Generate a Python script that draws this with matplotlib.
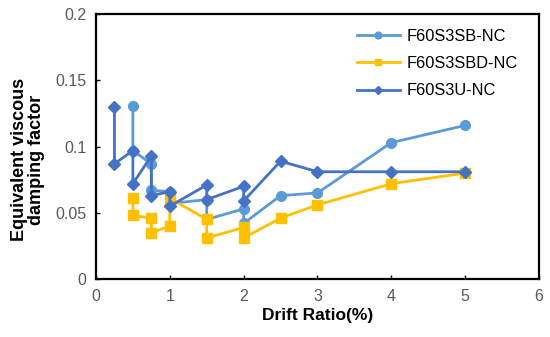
import matplotlib
matplotlib.use("Agg")
import matplotlib.pyplot as plt

# drift ratio (%) / damping factor
sb_x = [0.5, 0.5, 0.75, 0.75, 1.0, 1.0, 1.5, 1.5, 2.0, 2.0, 2.5, 3.0, 4.0, 5.0]
sb_y = [0.131, 0.097, 0.087, 0.067, 0.066, 0.057, 0.060, 0.045, 0.053, 0.042, 0.063, 0.065, 0.103, 0.116]

sbd_x = [0.5, 0.5, 0.75, 0.75, 1.0, 1.0, 1.5, 1.5, 2.0, 2.0, 2.5, 3.0, 4.0, 5.0]
sbd_y = [0.061, 0.048, 0.046, 0.035, 0.040, 0.061, 0.045, 0.031, 0.039, 0.031, 0.046, 0.056, 0.072, 0.080]

u_x = [0.25, 0.25, 0.5, 0.5, 0.75, 0.75, 1.0, 1.0, 1.5, 1.5, 2.0, 2.0, 2.5, 3.0, 4.0, 5.0]
u_y = [0.130, 0.087, 0.097, 0.072, 0.093, 0.063, 0.066, 0.055, 0.071, 0.060, 0.070, 0.059, 0.089, 0.081, 0.081, 0.081]

x_ticks = [0, 1, 2, 3, 4, 5, 6]
y_ticks = [0, 0.05, 0.1, 0.15, 0.2]
y_tick_labels = ["0", "0.05", "0.1", "0.15", "0.2"]

plt.rcParams["font.family"] = ["Liberation Sans", "DejaVu Sans"]

fig = plt.figure(figsize=(5.5, 3.37), dpi=100)
ax = fig.add_axes([0.1745, 0.172, 0.8055, 0.786])

ax.plot(sb_x, sb_y, color="#5B9BD5", lw=2, marker="o", ms=7, label="F60S3SB-NC")
ax.plot(sbd_x, sbd_y, color="#FFC000", lw=2, marker="s", ms=7, label="F60S3SBD-NC")
ax.plot(u_x, u_y, color="#4472C4", lw=2, marker="D", ms=6, label="F60S3U-NC")

ax.set_xlim(0, 6)
ax.set_ylim(0, 0.2)
ax.set_xticks(x_ticks)
ax.set_yticks(y_ticks)
ax.set_yticklabels(y_tick_labels)
ax.tick_params(direction="in", length=3, width=1, labelsize=11.5, labelcolor="#595959", pad=7)

for s in ax.spines.values():
    s.set_linewidth(1.6)

ax.set_xlabel("Drift Ratio(%)", fontsize=12.5, fontweight="bold", labelpad=3)
ax.set_ylabel("Equivalent viscous\ndamping factor", fontsize=13, fontweight="bold",
              linespacing=1.0)
ax.yaxis.set_label_coords(-0.115, 0.45)

ax.legend(loc="upper right", frameon=False, fontsize=11.8, markerscale=0.7,
          handlelength=2.6, handletextpad=0.4, labelspacing=0.75,
          bbox_to_anchor=(0.985, 1.0))

fig.savefig("out.png", dpi=100)
